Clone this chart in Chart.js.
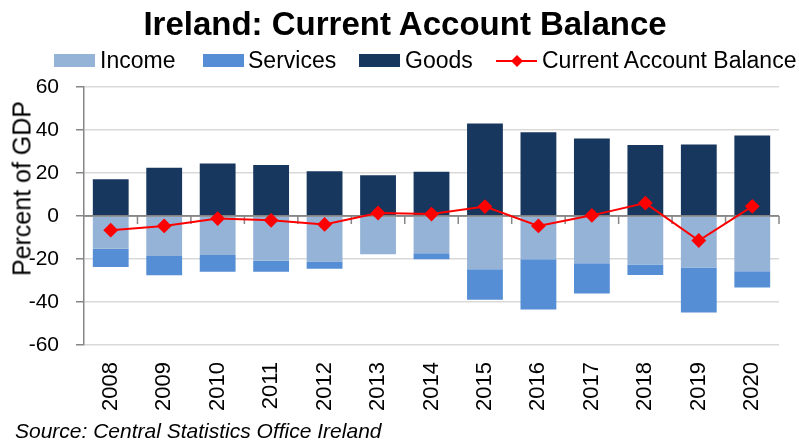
<!DOCTYPE html>
<html>
<head>
<meta charset="utf-8">
<script src="https://cdn.jsdelivr.net/npm/chart.js@4/dist/chart.umd.min.js"></script>
<style>
  html, body { margin: 0; padding: 0; background: #fff; }
  body { width: 799px; height: 442px; position: relative; overflow: hidden; font-family: "Liberation Sans", Arial, sans-serif; color: #000; }
  #wrap { position: absolute; left: 0; top: 0; width: 799px; height: 442px; }
  .t { position: absolute; line-height: 1; white-space: nowrap; }
  #title { left: 0; width: 810px; text-align: center; top: 7px; font-size: 33px; font-weight: bold; }
  .box { position: absolute; top: 54px; width: 41px; height: 13px; }
  .lg { font-size: 23px; top: 49px; }
  #ytitle { font-size: 25px; width: 220px; text-align: center; left: -88px; top: 176px; transform: rotate(-90deg); }
  #source { font-size: 21px; font-style: italic; left: 15px; top: 420px; }
</style>
</head>
<body>
<div id="wrap"><canvas id="c" width="799" height="442"></canvas></div>
<div class="t" id="title">Ireland: Current Account Balance</div>
<div class="box" style="left:54px;background:#95B3D7"></div>
<div class="t lg" style="left:100px">Income</div>
<div class="box" style="left:203px;background:#558ED5"></div>
<div class="t lg" style="left:248px">Services</div>
<div class="box" style="left:359px;background:#17375E"></div>
<div class="t lg" style="left:405px">Goods</div>
<canvas id="lgline" width="44" height="20" style="position:absolute;left:495px;top:51px"></canvas>
<div class="t lg" style="left:542px">Current Account Balance</div>
<div class="t" id="ytitle">Percent of GDP</div>
<div class="t" id="source">Source: Central Statistics Office Ireland</div>
<script>
const years = ["2008","2009","2010","2011","2012","2013","2014","2015","2016","2017","2018","2019","2020"];
const income   = [-15.2, -18.6, -18.1, -20.8, -21.2, -17.8, -17.3, -24.8, -20.1, -22.0, -22.6, -23.9, -25.7];
const services = [-8.5, -9.0, -7.8, -5.1, -3.3, 0, -2.8, -14.1, -23.4, -14.1, -4.8, -21.0, -7.6];
const goods    = [17.1, 22.5, 24.4, 23.7, 20.8, 18.9, 20.6, 43.0, 38.9, 36.1, 33.0, 33.2, 37.5];
const cab      = [-6.6, -4.6, -1.2, -2.0, -3.9, 1.4, 0.9, 4.4, -4.6, 0.3, 6.0, -11.4, 4.5];
const yTicks   = [-60, -40, -20, 0, 20, 40, 60];

// legend line sample
(function(){
  const g = document.getElementById('lgline').getContext('2d');
  g.strokeStyle = '#FF0000'; g.lineWidth = 2;
  g.beginPath(); g.moveTo(1, 10); g.lineTo(42, 10); g.stroke();
  g.fillStyle = '#FF0000';
  g.beginPath(); g.moveTo(22, 4); g.lineTo(28, 10); g.lineTo(22, 16); g.lineTo(16, 10); g.closePath(); g.fill();
})();

const axisGray = '#868686';
const zeroLine = {
  id: 'zeroLine',
  beforeDatasetDraw(chart, args) {
    if (args.meta.type !== 'line') return;
    const ctx = chart.ctx, x = chart.scales.x, y = chart.scales.y;
    const y0 = y.getPixelForValue(0);
    const area = chart.chartArea;
    ctx.save();
    ctx.strokeStyle = axisGray; ctx.lineWidth = 1.5;
    ctx.beginPath(); ctx.moveTo(area.left, y0); ctx.lineTo(area.right, y0); ctx.stroke();
    const n = years.length;
    for (let i = 1; i <= n; i++) {
      const px = (x.getPixelForValue(i - 1) + (i < n ? x.getPixelForValue(i) : 2 * x.getPixelForValue(n - 1) - x.getPixelForValue(n - 2))) / 2;
      ctx.beginPath(); ctx.moveTo(px, y0); ctx.lineTo(px, y0 + 8); ctx.stroke();
    }
    ctx.restore();
  }
};

new Chart(document.getElementById('c'), {
  data: {
    labels: years,
    datasets: [
      { type: 'bar', label: 'Income', data: income, backgroundColor: '#95B3D7', stack: 'bal', order: 1 },
      { type: 'bar', label: 'Services', data: services, backgroundColor: '#558ED5', stack: 'bal', order: 1 },
      { type: 'bar', label: 'Goods', data: goods, backgroundColor: '#17375E', stack: 'bal', order: 1 },
      { type: 'line', label: 'Current Account Balance', data: cab, borderColor: '#FF0000', backgroundColor: '#FF0000',
        borderWidth: 2, pointStyle: 'rectRot', pointRadius: 6, pointHoverRadius: 6, stack: 'cab', order: 0, tension: 0 }
    ]
  },
  options: {
    responsive: false,
    animation: false,
    events: [],
    layout: { padding: { top: 87, right: 20, left: 0, bottom: 0 } },
    datasets: { bar: { barPercentage: 0.67, categoryPercentage: 1.0 } },
    plugins: { legend: { display: false }, title: { display: false }, tooltip: { enabled: false } },
    scales: {
      x: {
        stacked: true,
        offset: true,
        grid: { display: false, drawTicks: false },
        border: { display: false },
        ticks: { minRotation: 90, maxRotation: 90, padding: 17, color: '#000', font: { family: 'Liberation Sans', size: 22 } },
        afterFit: s => { s.height = 97; }
      },
      y: {
        stacked: true,
        min: -60, max: 60,
        afterBuildTicks: s => { s.ticks = yTicks.map(v => ({ value: v })); },
        grid: {
          color: c => (c.tick && c.tick.value === 0) ? axisGray : '#D9D9D9',
          lineWidth: 1.5,
          drawTicks: true, tickLength: 8, tickColor: axisGray, tickWidth: 1.5
        },
        border: { display: true, color: axisGray, width: 1.5 },
        ticks: { padding: 17, color: '#000', font: { family: 'Liberation Sans', size: 21 } },
        afterFit: s => { s.width = 84; }
      }
    }
  },
  plugins: [zeroLine]
});
</script>
</body>
</html>
